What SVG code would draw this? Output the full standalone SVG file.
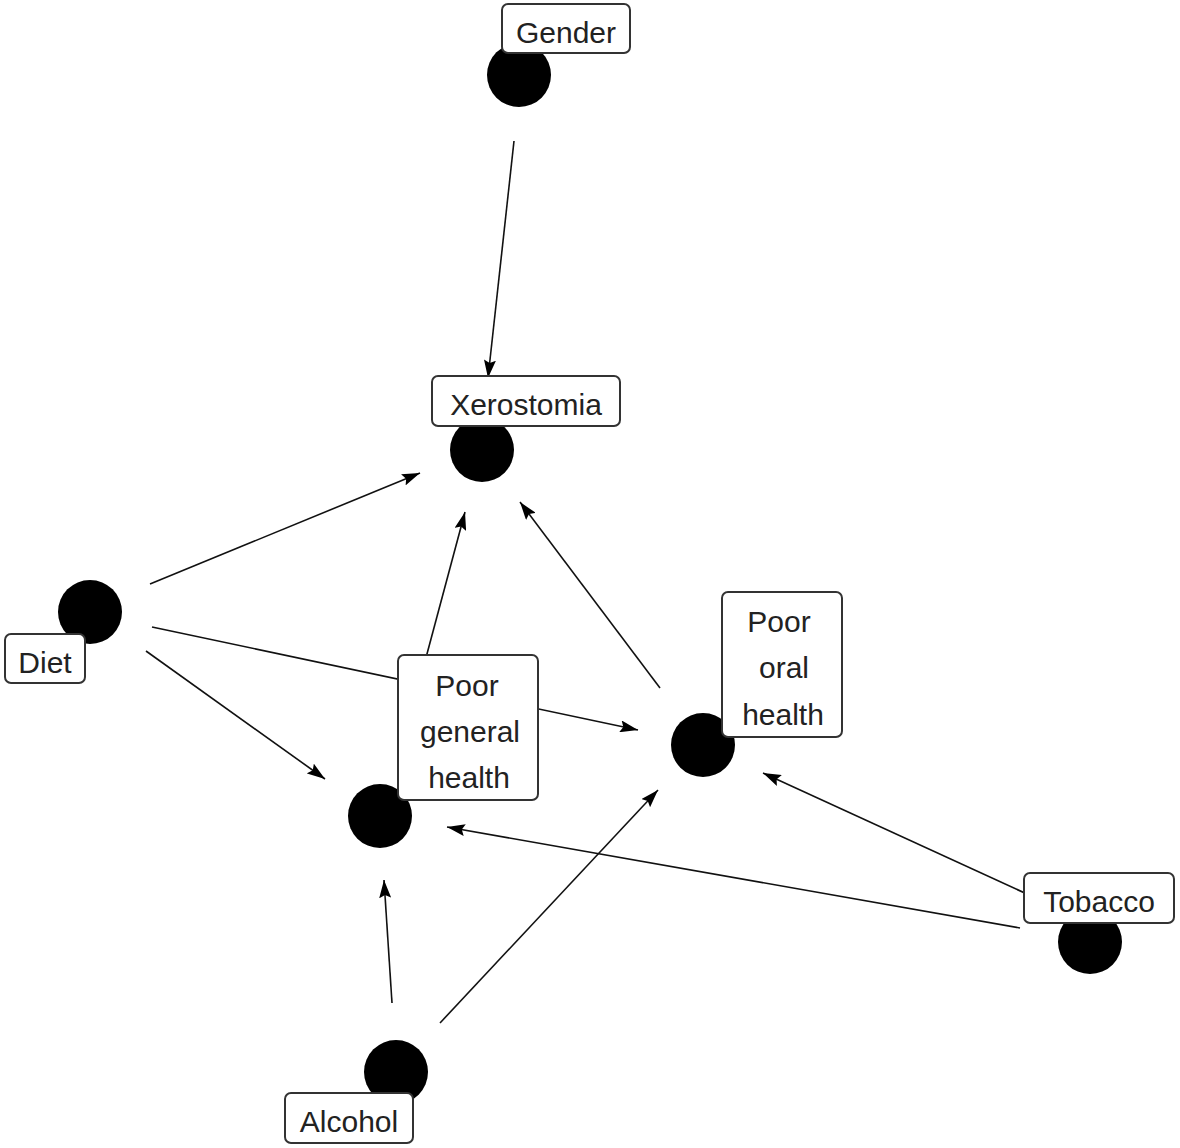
<svg xmlns="http://www.w3.org/2000/svg" width="1180" height="1148" viewBox="0 0 1180 1148">
<defs>
<marker id="ah" viewBox="0 0 18 12" refX="18" refY="6" markerWidth="18" markerHeight="12" markerUnits="userSpaceOnUse" orient="auto">
<path d="M0,0 L18,6 L0,12 L3,6 z" fill="#000"/>
</marker>
<style>
.e{stroke:#111;stroke-width:1.6;fill:none;marker-end:url(#ah)}
.dot{fill:#000}
.box{fill:#fff;stroke:#333;stroke-width:2}
.t{font-family:"Liberation Sans",Arial,sans-serif;font-size:30px;fill:#222;text-anchor:middle}
</style>
</defs>
<rect width="1180" height="1148" fill="#fff"/>
<g id="connectors">
<line class="e" x1="514" y1="141" x2="488" y2="378"/>
<line class="e" x1="150" y1="584" x2="420" y2="473"/>
<line class="e" x1="152" y1="627" x2="638" y2="730"/>
<line class="e" x1="146" y1="651" x2="325" y2="779"/>
<line class="e" x1="420" y1="680" x2="465" y2="512"/>
<line class="e" x1="660" y1="688" x2="520" y2="502"/>
<line class="e" x1="1040" y1="900" x2="763" y2="773"/>
<line class="e" x1="1020" y1="928" x2="447" y2="827"/>
<line class="e" x1="392" y1="1003" x2="384" y2="880"/>
<line class="e" x1="440" y1="1023" x2="658" y2="790"/>
</g>
<g id="gender">
<circle class="dot" cx="519" cy="75" r="32"/>
<rect class="box" x="502" y="4" width="128" height="49" rx="6"/>
<text class="t" x="566" y="43">Gender</text>
</g>
<g id="xerostomia">
<circle class="dot" cx="482" cy="450" r="32"/>
<rect class="box" x="432" y="376" width="188" height="50" rx="6"/>
<text class="t" x="526" y="415">Xerostomia</text>
</g>
<g id="diet">
<circle class="dot" cx="90" cy="612" r="32"/>
<rect class="box" x="5" y="634" width="80" height="49" rx="6"/>
<text class="t" x="45" y="673">Diet</text>
</g>
<g id="poor-general-health">
<circle class="dot" cx="380" cy="816" r="32"/>
<rect class="box" x="398" y="655" width="140" height="145" rx="6"/>
<text class="t" x="467" y="696">Poor</text>
<text class="t" x="470" y="742">general</text>
<text class="t" x="469" y="788">health</text>
</g>
<g id="poor-oral-health">
<circle class="dot" cx="703" cy="745" r="32"/>
<rect class="box" x="722" y="592" width="120" height="145" rx="6"/>
<text class="t" x="779" y="632">Poor</text>
<text class="t" x="784" y="678">oral</text>
<text class="t" x="783" y="725">health</text>
</g>
<g id="tobacco">
<circle class="dot" cx="1090" cy="942" r="32"/>
<rect class="box" x="1024" y="873" width="150" height="50" rx="6"/>
<text class="t" x="1099" y="912">Tobacco</text>
</g>
<g id="alcohol">
<circle class="dot" cx="396" cy="1072" r="32"/>
<rect class="box" x="285" y="1093" width="128" height="50" rx="6"/>
<text class="t" x="349" y="1132">Alcohol</text>
</g>
</svg>
